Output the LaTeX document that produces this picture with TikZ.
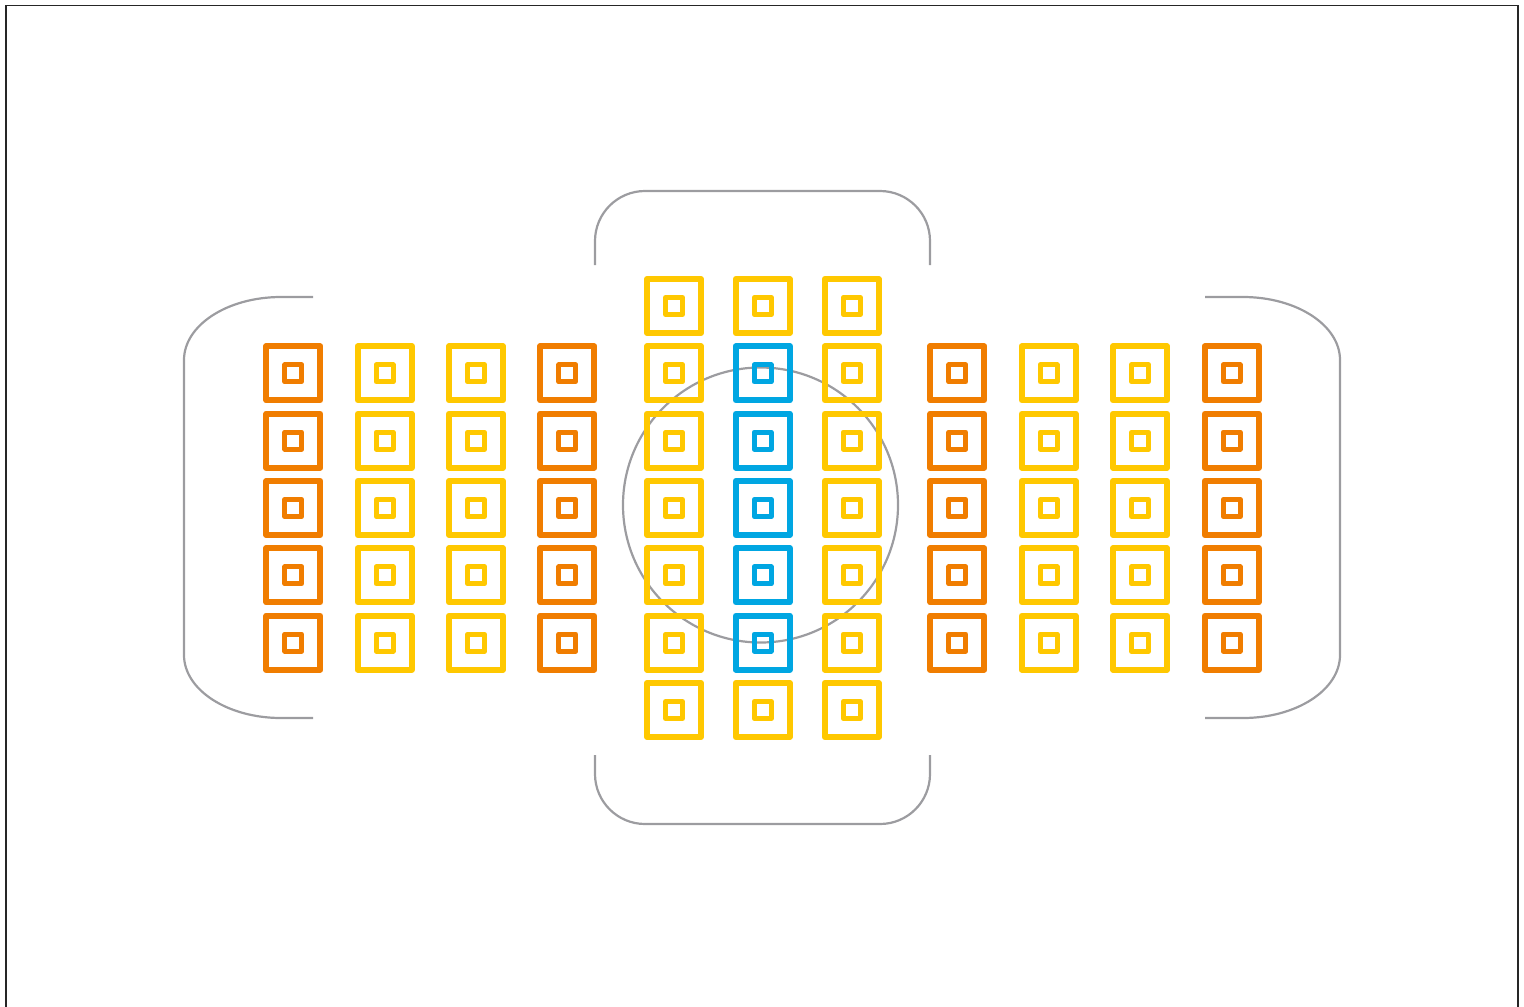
\documentclass[tikz,border=0pt]{standalone}
\definecolor{ora}{HTML}{F07D00}
\definecolor{yel}{HTML}{FFC800}
\definecolor{blu}{HTML}{00A6E2}
\definecolor{gry}{HTML}{9C9CA0}
\tikzset{
  outersq/.style={rectangle, draw=#1, line width=6pt, minimum size=54pt, inner sep=0pt, outer sep=0pt, line join=round},
  innersq/.style={rectangle, draw=#1, line width=5pt, minimum size=17pt, inner sep=0pt, outer sep=0pt, line join=round},
  grayline/.style={draw=gry, line width=2.2pt},
  frameline/.style={draw=black!85, line width=1.5pt}
}
\begin{document}
\begin{tikzpicture}[x=1pt,y=-1pt]
\useasboundingbox (0,0) rectangle (1524,1007);
% frame
\draw[frameline] (6,1007) -- (6,5.5) -- (1518,5.5) -- (1518,1007);
% circle
\draw[grayline] (760.5,505) circle[radius=137.5];
% brackets
\draw[grayline] (595,265) -- (595,241) .. controls (595,213.4) and (617.4,191) .. (645,191) -- (880,191) .. controls (907.6,191) and (930,213.4) .. (930,241) -- (930,265);
\draw[grayline] (595,755) -- (595,774) .. controls (595,801.6) and (617.4,824) .. (645,824) -- (880,824) .. controls (907.6,824) and (930,801.6) .. (930,774) -- (930,755);
\draw[grayline] (313,297) -- (281,297) .. controls (227.4,297) and (184,325.2) .. (184,360) -- (184,655) .. controls (184,689.8) and (227.4,718) .. (281,718) -- (313,718);
\draw[grayline] (1205,297) -- (1243,297) .. controls (1296.6,297) and (1340,325.2) .. (1340,360) -- (1340,655) .. controls (1340,689.8) and (1296.6,718) .. (1243,718) -- (1205,718);
% side groups
\foreach \x/\c/\i in {293.3/ora/1, 384.7/yel/2, 476/yel/3, 567.3/ora/4, 957.3/ora/5, 1048.7/yel/6, 1140/yel/7, 1231.7/ora/8}
  \foreach \y/\j in {373.3/1, 440.7/2, 508/3, 575.3/4, 642.7/5} {
    \node[outersq=\c] (s\i-\j) at (\x,\y) {};
    \node[innersq=\c] (s\i-\j-in) at (s\i-\j) {};
  }
% central group, outer columns
\foreach \x/\i in {674/a, 851.7/c}
  \foreach \y/\j in {306/0, 373.3/1, 440.7/2, 508/3, 575.3/4, 642.7/5, 710/6} {
    \node[outersq=yel] (c\i-\j) at (\x,\y) {};
    \node[innersq=yel] (c\i-\j-in) at (c\i-\j) {};
  }
% central column
\foreach \y/\j/\c in {306/0/yel, 373.3/1/blu, 440.7/2/blu, 508/3/blu, 575.3/4/blu, 642.7/5/blu, 710/6/yel} {
    \node[outersq=\c] (cb-\j) at (762.7,\y) {};
    \node[innersq=\c] (cb-\j-in) at (cb-\j) {};
  }
\end{tikzpicture}
\end{document}
